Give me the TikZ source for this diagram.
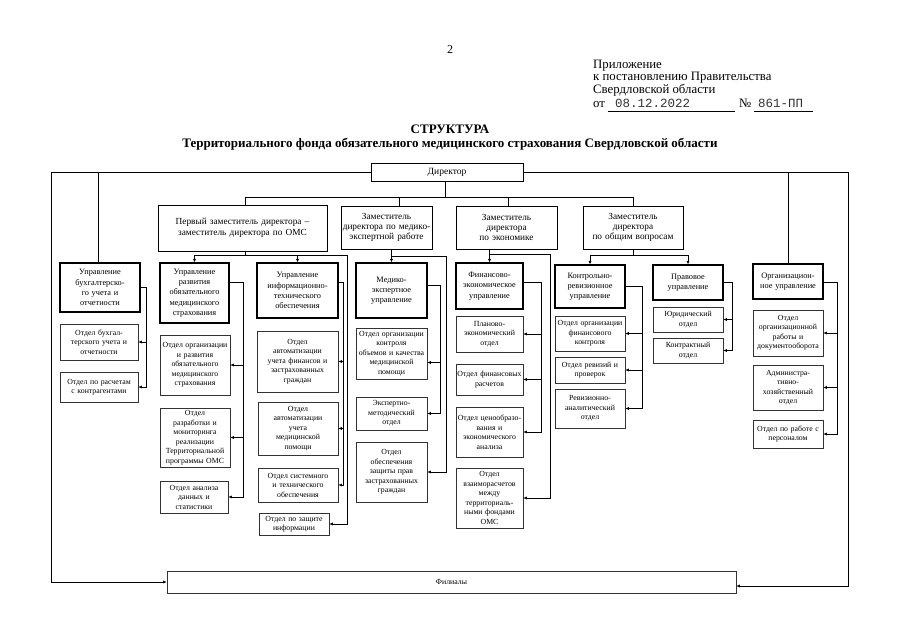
\documentclass[tikz,border=0pt]{standalone}
\usepackage{fontspec}
\setmainfont{Liberation Serif}
\newfontfamily\monof{Liberation Mono}
\usetikzlibrary{arrows.meta}
\newcommand\bx[7]{%
  \pgfmathsetmacro\bxw{#5-#3}%
  \pgfmathsetmacro\bxh{#6-#4}%
  \pgfmathsetmacro\bxx{(#3+#5)/2}%
  \pgfmathsetmacro\bxy{(#4+#6)/2}%
  \pgfmathsetmacro\bxt{#5-#3-1}%
  \node[#2, minimum width=\bxw pt, minimum height=\bxh pt, text width=\bxt pt] (#1) at (\bxx,\bxy) {#7};%
}
\begin{document}
\begin{tikzpicture}[x=1pt,y=-1pt,
  base/.style={draw, inner sep=0pt, align=center},
  dpt/.style={base, line width=0.6pt, draw=black!80, font=\fontsize{7.8}{9.5}\selectfont},
  upr/.style={base, line width=1.2pt, font=\fontsize{8.3}{10.2}\selectfont},
  dep/.style={base, line width=1pt, font=\fontsize{9.3}{10.4}\selectfont},
  hdr/.style={anchor=base west, inner sep=0pt, font=\fontsize{12.8}{13.5}\selectfont},
  ttl/.style={anchor=base, inner sep=0pt, font=\fontsize{13}{14}\selectfont\bfseries},
  ln/.style={line width=0.6pt},
  arr/.style={ln, -{Latex[length=3.5pt,width=3pt]}}]
\fill[white] (0,0) rectangle (905,640);
\useasboundingbox (0,0) rectangle (905,640);

% header
\node[anchor=base, inner sep=0pt, font=\fontsize{12}{14}\selectfont] (pg) at (450,53) {2};
\node[hdr] (a1) at (593,68) {Приложение};
\node[hdr] (a2) at (593,80.5) {к постановлению Правительства};
\node[hdr] (a3) at (593,93.5) {Свердловской области};
\node[hdr] (a4) at (593,107) {от};
\node[hdr, font=\fontsize{12.5}{13.5}\monof, text=black!80] (dt) at (615,107) {08.12.2022};
\node[hdr] (nm) at (739,107) {№};
\node[hdr, font=\fontsize{12.5}{13.5}\monof, text=black!80] (nr) at (758,107) {861-ПП};
\draw[line width=0.5pt] (a4.base east) ++(3,4) coordinate (u1) -- (735,111);
\draw[line width=0.5pt] (754,111) coordinate (u2) -- (813,111);
\node[ttl] (t1) at (450,133) {СТРУКТУРА};
\node[ttl] (t2) at (450,147) {Территориального фонда обязательного медицинского страхования Свердловской области};

% boxes
\bx{dir}{dep, font=\fontsize{9.5}{11}\selectfont}{371}{163}{523}{181}{Директор}
\bx{z1}{dep}{158}{205}{327}{251}{Первый заместитель директора –\\заместитель директора по ОМС}
\bx{z2}{dep}{341}{206}{432}{249}{Заместитель\\директора по медико-\\экспертной работе}
\bx{z3}{dep}{456}{206}{557}{249}{Заместитель\\директора\\по экономике}
\bx{z4}{dep}{583}{206}{683}{249}{Заместитель\\директора\\по общим вопросам}

\bx{ub}{upr}{60}{263}{140}{312}{Управление\\бухгалтерско-\\го учета и\\отчетности}
\bx{d11}{dpt}{60}{324}{138}{360}{Отдел бухгал-\\терского учета и\\отчетности}
\bx{d12}{dpt}{60}{372}{138}{402}{Отдел по расчетам\\с контрагентами}

\bx{ur}{upr}{160}{263}{229}{323}{Управление\\развития\\обязательного\\медицинского\\страхования}
\bx{d21}{dpt}{160}{335}{230}{395}{Отдел организации\\и развития\\обязательного\\медицинского\\страхования}
\bx{d22}{dpt}{160}{408}{230}{467}{Отдел\\разработки и\\мониторинга\\реализации\\Территориальной\\программы ОМС}
\bx{d23}{dpt}{160}{481}{228}{513}{Отдел анализа\\данных и\\статистики}

\bx{ui}{upr}{257}{263}{338}{318}{Управление\\информационно-\\технического\\обеспечения}
\bx{d31}{dpt}{257}{331}{338}{392}{Отдел\\автоматизации\\учета финансов и\\застрахованных\\граждан}
\bx{d32}{dpt}{258}{402}{338}{455}{Отдел\\автоматизации\\учета\\медицинской\\помощи}
\bx{d33}{dpt}{258}{468}{338}{502}{Отдел системного\\и технического\\обеспечения}
\bx{d34}{dpt}{259}{513}{329}{535}{Отдел по защите\\информации}

\bx{um}{upr}{356}{263}{427}{318}{Медико-\\экспертное\\управление}
\bx{d41}{dpt}{356}{328}{427}{379}{Отдел организации\\контроля\\объемов и качества\\медицинской\\помощи}
\bx{d42}{dpt}{356}{397}{427}{430}{Экспертно-\\методический\\отдел}
\bx{d43}{dpt}{356}{442}{427}{502}{Отдел\\обеспечения\\защиты прав\\застрахованных\\граждан}

\bx{uf}{upr}{456}{263}{523}{309}{Финансово-\\экономическое\\управление}
\bx{d51}{dpt}{456}{316}{523}{352}{Планово-\\экономический\\отдел}
\bx{d52}{dpt}{456}{364}{523}{395}{Отдел финансовых\\расчетов}
\bx{d53}{dpt}{456}{407}{523}{457}{Отдел ценообразо-\\вания и\\экономического\\анализа}
\bx{d54}{dpt}{456}{468}{523}{528}{Отдел\\взаиморасчетов\\между\\территориаль-\\ными фондами\\ОМС}

\bx{uk}{upr}{555}{265}{625}{308}{Контрольно-\\ревизионное\\управление}
\bx{d61}{dpt}{555}{316}{625}{351}{Отдел организации\\финансового\\контроля}
\bx{d62}{dpt}{555}{357}{625}{383}{Отдел ревизий и\\проверок}
\bx{d63}{dpt}{555}{389}{625}{428}{Ревизионно-\\аналитический\\отдел}

\bx{up}{upr}{653}{265}{723}{300}{Правовое\\управление}
\bx{d71}{dpt}{653}{307}{723}{332}{Юридический\\отдел}
\bx{d72}{dpt}{653}{338}{723}{363}{Контрактный\\отдел}

\bx{uo}{upr}{753}{264}{823}{299}{Организацион-\\ное управление}
\bx{d81}{dpt}{753}{310}{823}{356}{Отдел\\организационной\\работы и\\документооборота}
\bx{d82}{dpt}{753}{365}{823}{410}{Администра-\\тивно-\\хозяйственный\\отдел}
\bx{d83}{dpt}{753}{420}{823}{448}{Отдел по работе с\\персоналом}

\bx{fil}{dpt}{167}{571}{736}{593}{Филиалы}

% outer frame
\coordinate (LT) at (51,172);
\coordinate (LB) at (51,582);
\coordinate (RT) at (848,172);
\coordinate (RB) at (848,586);
\draw[arr] (dir.west) -- (LT) -- (LB) -- (fil.west |- LB);
\draw[arr] (dir.east) -- (RT) -- (RB) -- (fil.east |- RB);
\draw[ln] ([xshift=-2pt]ub.north) -- ([xshift=-2pt]ub.north |- LT);
\draw[ln] (uo.north) -- (uo.north |- RT);

% director bus
\coordinate (bus) at (0,197);
\draw[ln] ([xshift=-2pt]dir.south) -- ([xshift=-2pt]dir.south |- bus);
\draw[ln] ([xshift=3pt]z1.north) |- (z4.north |- bus) -- (z4.north);
\draw[ln] ([xshift=13pt]z2.north) -- ([xshift=13pt]z2.north |- bus);
\draw[ln] ([xshift=2pt]z3.north) -- ([xshift=2pt]z3.north |- bus);

% first deputy
\coordinate (h1y) at (0,255);
\coordinate (k1) at (347,255);
\draw[ln] ([xshift=3pt]z1.south) -- ([xshift=3pt]z1.south |- h1y);
\draw[arr] (ur.north |- h1y) -- (ur.north);
\draw[arr] (ui.north |- h1y) -- (ui.north);
\draw[arr] (ur.north |- h1y) -- (k1) |- (d34.east);

% medical-expert deputy
\coordinate (k2) at (446,256);
\draw[arr] (um.north |- z2.south) -- (um.north);
\draw[arr] (um.north |- k2) -- (k2) |- (d43.east);

% economy deputy
\coordinate (k3) at (550,254);
\draw[arr] (uf.north |- z3.south) -- (uf.north);
\draw[arr] (uf.north |- k3) -- (k3) |- (d54.east);

% general deputy
\coordinate (h4y) at (0,255);
\draw[ln] (z4.south) -- (z4.south |- h4y);
\draw[ln] (uk.north |- h4y) -- (up.north |- h4y);
\draw[arr] (uk.north |- h4y) -- (uk.north);
\draw[arr] (up.north |- h4y) -- (up.north);

% brackets
\draw[ln] (ub.east) -- ++(6,0) coordinate (q1) -- (q1 |- d12.east);
\draw[arr] (q1 |- d11.east) -- (d11.east);
\draw[arr] (q1 |- d12.east) -- (d12.east);

\draw[ln] ([yshift=-20pt]ur.north east) -- ++(14,0) coordinate (q2) -- (q2 |- d23.east);
\draw[arr] (q2 |- d21.east) -- (d21.east);
\draw[arr] (q2 |- d22.east) -- (d22.east);
\draw[arr] (q2 |- d23.east) -- (d23.east);

\draw[ln] ([yshift=-20pt]ui.north east) -- ++(5,0) coordinate (q3) -- (q3 |- d33.east);
\draw[arr] (q3 |- d31.east) -- (d31.east);
\draw[arr] (q3 |- d32.east) -- (d32.east);
\draw[arr] (q3 |- d33.east) -- (d33.east);

\coordinate (d41a) at ([yshift=-9pt]d41.east);
\draw[ln] ([yshift=-23pt]um.north east) -- ++(13,0) coordinate (q4) -- (q4 |- d42.east);
\draw[arr] (q4 |- d41a) -- (d41a);
\draw[arr] (q4 |- d42.east) -- (d42.east);

\draw[ln] ([yshift=-20pt]uf.north east) -- ++(18,0) coordinate (q5) -- (q5 |- d53.east);
\draw[arr] (q5 |- d51.east) -- (d51.east);
\draw[arr] (q5 |- d52.east) -- (d52.east);
\draw[arr] (q5 |- d53.east) -- (d53.east);

\draw[ln] ([yshift=-22pt]uk.north east) -- ++(17,0) coordinate (q6) -- (q6 |- d63.east);
\draw[arr] (q6 |- d61.east) -- (d61.east);
\draw[arr] (q6 |- d62.east) -- (d62.east);
\draw[arr] (q6 |- d63.east) -- (d63.east);

\draw[ln] ([yshift=-18pt]up.north east) -- ++(9,0) coordinate (q7) -- (q7 |- d72.east);
\draw[arr] (q7 |- d71.east) -- (d71.east);
\draw[arr] (q7 |- d72.east) -- (d72.east);

\draw[ln] ([yshift=-19pt]uo.north east) -- ++(14,0) coordinate (q8) -- (q8 |- d83.east);
\draw[arr] (q8 |- d81.east) -- (d81.east);
\draw[arr] (q8 |- d82.east) -- (d82.east);
\draw[arr] (q8 |- d83.east) -- (d83.east);
\end{tikzpicture}
\end{document}
